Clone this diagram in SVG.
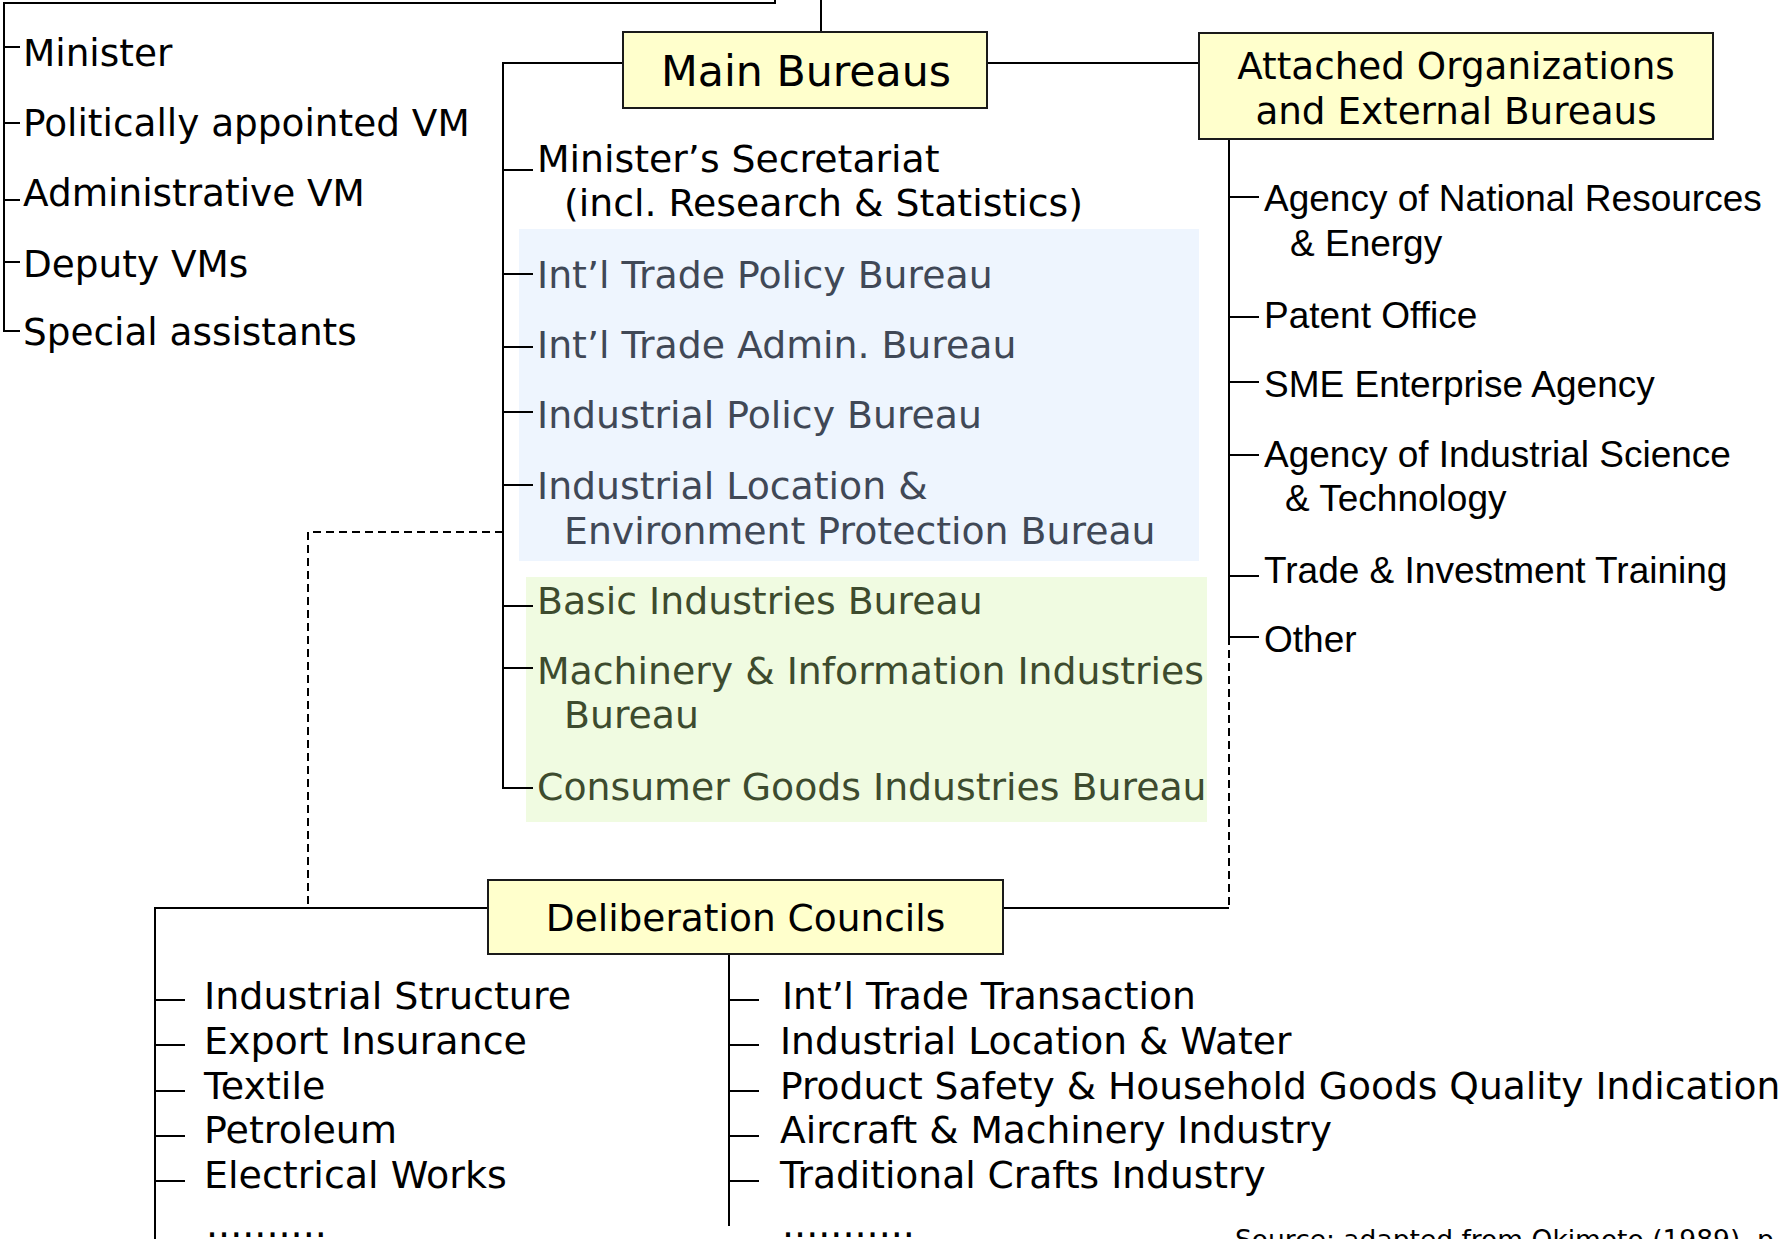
<svg xmlns="http://www.w3.org/2000/svg" width="1787" height="1239" viewBox="0 0 1787 1239">
  <style>
    .t { font-family: "DejaVu Sans", Verdana, sans-serif; font-size: 37.8px; fill: #000; }
    .lead { font-size: 37.4px; }
    .dc { font-size: 38px; }
    .dr { font-size: 37.6px; }
    .a { font-family: "Liberation Sans", Arial, sans-serif; font-size: 37px; fill: #000; }
    .c { text-anchor: middle; }
    .box { fill: #FFFFCC; stroke: #1a1a1a; stroke-width: 2; }
    .ln { fill: none; stroke: #000; stroke-width: 2; }
    .dash { stroke-dasharray: 8 5; }
    .blue { fill: #404856; }
    .green { fill: #3D4B2E; }
    .src { font-family: "DejaVu Sans", Verdana, sans-serif; font-size: 26.5px; fill: #000; }
  </style>

  <!-- shaded bureau groups -->
  <rect x="519" y="229" width="680" height="332" fill="#EEF5FE"/>
  <rect x="526" y="577" width="681" height="245" fill="#F0FBE1"/>

  <g id="connectors">
    <!-- ministry leadership bracket -->
    <path class="ln" d="M775,0 V3 H4 V331 H20"/>
    <path class="ln" d="M4,47 H20 M4,123 H20 M4,200 H20 M4,262 H20"/>
    <!-- ministry to main bureaus -->
    <path class="ln" d="M821,0 V32"/>
    <!-- main bureaus tree -->
    <path class="ln" d="M623,63 H503 V788 H533"/>
    <path class="ln" d="M503,170 H533 M503,274 H533 M503,347 H533 M503,412 H533 M503,485 H533 M503,606 H533 M503,668 H533"/>
    <!-- main bureaus to attached organizations -->
    <path class="ln" d="M987,63 H1199"/>
    <!-- attached organizations tree -->
    <path class="ln" d="M1229,139 V637 H1259"/>
    <path class="ln" d="M1229,197 H1259 M1229,317 H1259 M1229,382 H1259 M1229,455 H1259 M1229,576 H1259"/>
    <!-- advisory links to deliberation councils -->
    <path class="ln dash" d="M1229,637 V908"/>
    <path class="ln" d="M1229,908 H1003"/>
    <path class="ln dash" d="M503,532 H308 V908"/>
    <!-- deliberation councils tree -->
    <path class="ln" d="M488,908 H155 V1239"/>
    <path class="ln" d="M155,1000 H185 M155,1045 H185 M155,1091 H185 M155,1136 H185 M155,1181 H185"/>
    <path class="ln" d="M729,954 V1226"/>
    <path class="ln" d="M729,1000 H759 M729,1045 H759 M729,1091 H759 M729,1136 H759 M729,1181 H759"/>
  </g>

  <g id="leadership">
    <text class="t lead" x="23" y="66">Minister</text>
    <text class="t lead" x="23" y="136">Politically appointed VM</text>
    <text class="t lead" x="23" y="206">Administrative VM</text>
    <text class="t lead" x="23" y="277">Deputy VMs</text>
    <text class="t lead" x="23" y="345">Special assistants</text>
  </g>

  <g id="main-bureaus">
    <rect class="box" x="623" y="32" width="364" height="76"/>
    <text class="t c" x="806" y="86" style="font-size:42.7px">Main Bureaus</text>
  </g>

  <g id="ministers-secretariat">
    <text class="t" x="537" y="172">Minister’s Secretariat</text>
    <text class="t" x="564" y="216">(incl. Research &amp; Statistics)</text>
  </g>
  <g id="trade-policy-bureau"><text class="t blue" x="537" y="288">Int’l Trade Policy Bureau</text></g>
  <g id="trade-admin-bureau"><text class="t blue" x="537" y="358">Int’l Trade Admin. Bureau</text></g>
  <g id="industrial-policy-bureau"><text class="t blue" x="537" y="428">Industrial Policy Bureau</text></g>
  <g id="location-environment-bureau">
    <text class="t blue" x="537" y="499">Industrial Location &amp;</text>
    <text class="t blue" x="564" y="544">Environment Protection Bureau</text>
  </g>
  <g id="basic-industries-bureau"><text class="t green" x="537" y="614">Basic Industries Bureau</text></g>
  <g id="machinery-information-bureau">
    <text class="t green" x="537" y="684">Machinery &amp; Information Industries</text>
    <text class="t green" x="564" y="728">Bureau</text>
  </g>
  <g id="consumer-goods-bureau"><text class="t green" x="537" y="800">Consumer Goods Industries Bureau</text></g>

  <g id="attached-organizations">
    <rect class="box" x="1199" y="33" width="514" height="106"/>
    <text class="t c" x="1456" y="79" style="font-size:37.3px">Attached Organizations</text>
    <text class="t c" x="1456" y="124" style="font-size:37.3px">and External Bureaus</text>
  </g>
  <g id="natural-resources-energy">
    <text class="a" x="1264" y="211">Agency of National Resources</text>
    <text class="a" x="1290" y="256">&amp; Energy</text>
  </g>
  <g id="patent-office"><text class="a" x="1264" y="328">Patent Office</text></g>
  <g id="sme-agency"><text class="a" x="1264" y="397">SME Enterprise Agency</text></g>
  <g id="industrial-science-technology">
    <text class="a" x="1264" y="467">Agency of Industrial Science</text>
    <text class="a" x="1285" y="511">&amp; Technology</text>
  </g>
  <g id="trade-investment-training"><text class="a" x="1264" y="583">Trade &amp; Investment Training</text></g>
  <g id="other"><text class="a" x="1264" y="652">Other</text></g>

  <g id="deliberation-councils">
    <rect class="box" x="488" y="880" width="515" height="74"/>
    <text class="t c" x="745.5" y="931" style="font-size:37.5px">Deliberation Councils</text>
  </g>
  <g id="councils-left">
    <text class="t dc" x="204" y="1009">Industrial Structure</text>
    <text class="t dc" x="204" y="1054">Export Insurance</text>
    <text class="t dc" x="204" y="1099">Textile</text>
    <text class="t dc" x="204" y="1143">Petroleum</text>
    <text class="t dc" x="204" y="1188">Electrical Works</text>
    <text class="t dc" x="206" y="1237">..........</text>
  </g>
  <g id="councils-right">
    <text class="t dr" x="782" y="1009">Int’l Trade Transaction</text>
    <text class="t dr" x="780" y="1054">Industrial Location &amp; Water</text>
    <text class="t dr" x="780" y="1099">Product Safety &amp; Household Goods Quality Indication</text>
    <text class="t dr" x="780" y="1143">Aircraft &amp; Machinery Industry</text>
    <text class="t dr" x="780" y="1188">Traditional Crafts Industry</text>
    <text class="t dc" x="782" y="1237">...........</text>
  </g>

  <text class="src" x="1235" y="1249">Source: adapted from Okimoto (1989), p</text>
</svg>
